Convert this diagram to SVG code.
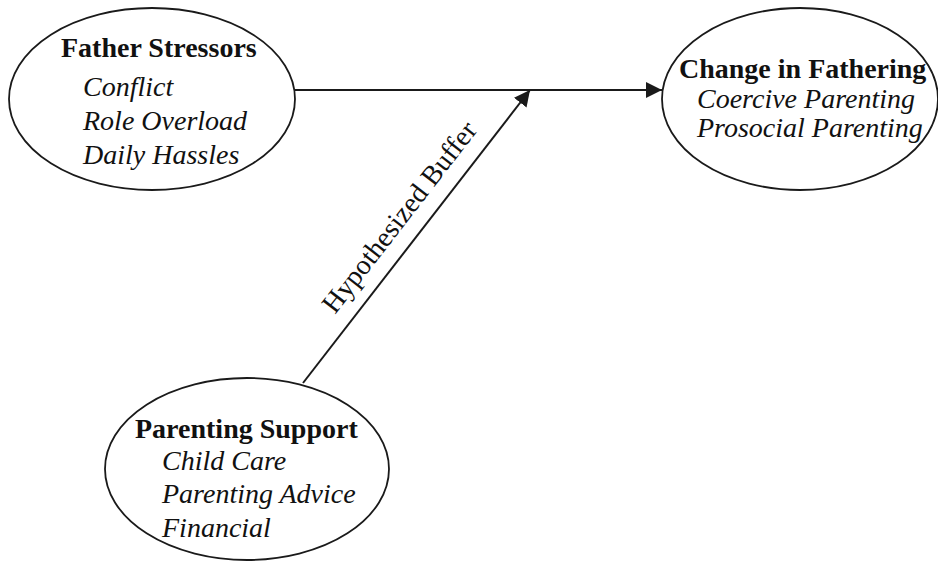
<svg xmlns="http://www.w3.org/2000/svg" width="938" height="563" viewBox="0 0 938 563">
<defs>
<style>
.node{fill:#fff;stroke:#1a1a1a;stroke-width:1.8}
.t{font-family:"Liberation Serif","Times New Roman",serif;font-size:28px;fill:#111}
.b{font-weight:bold}
.i{font-style:italic}
.edge{stroke:#1a1a1a;stroke-width:2;fill:none}
</style>
<marker id="arr" viewBox="0 0 16 16" refX="16" refY="8" markerWidth="16" markerHeight="16" markerUnits="userSpaceOnUse" orient="auto">
<path d="M0,0 L16,8 L0,16 Z" fill="#1a1a1a"/>
</marker>
</defs>
<rect width="938" height="563" fill="#fff"/>
<g id="father-stressors">
<ellipse class="node" cx="152" cy="99" rx="143" ry="91"/>
<text class="t b" x="61" y="57">Father Stressors</text>
<text class="t i" x="83" y="96">Conflict</text>
<text class="t i" x="83" y="130">Role Overload</text>
<text class="t i" x="83" y="164">Daily Hassles</text>
</g>
<g id="change-in-fathering">
<ellipse class="node" cx="800" cy="99" rx="138" ry="91"/>
<text class="t b" x="679" y="78">Change in Fathering</text>
<text class="t i" x="697" y="108">Coercive Parenting</text>
<text class="t i" x="697" y="137">Prosocial Parenting</text>
</g>
<g id="parenting-support">
<ellipse class="node" cx="247" cy="469" rx="142" ry="91"/>
<text class="t b" x="135" y="438">Parenting Support</text>
<text class="t i" x="162" y="470">Child Care</text>
<text class="t i" x="162" y="503">Parenting Advice</text>
<text class="t i" x="162" y="537">Financial</text>
</g>
<g id="connectors">
<line class="edge" x1="295" y1="90" x2="662" y2="90" marker-end="url(#arr)"/>
<line class="edge" x1="303" y1="383" x2="530" y2="90" marker-end="url(#arr)"/>
<text class="t" transform="translate(335,315) rotate(-52.2)">Hypothesized Buffer</text>
</g>
</svg>
